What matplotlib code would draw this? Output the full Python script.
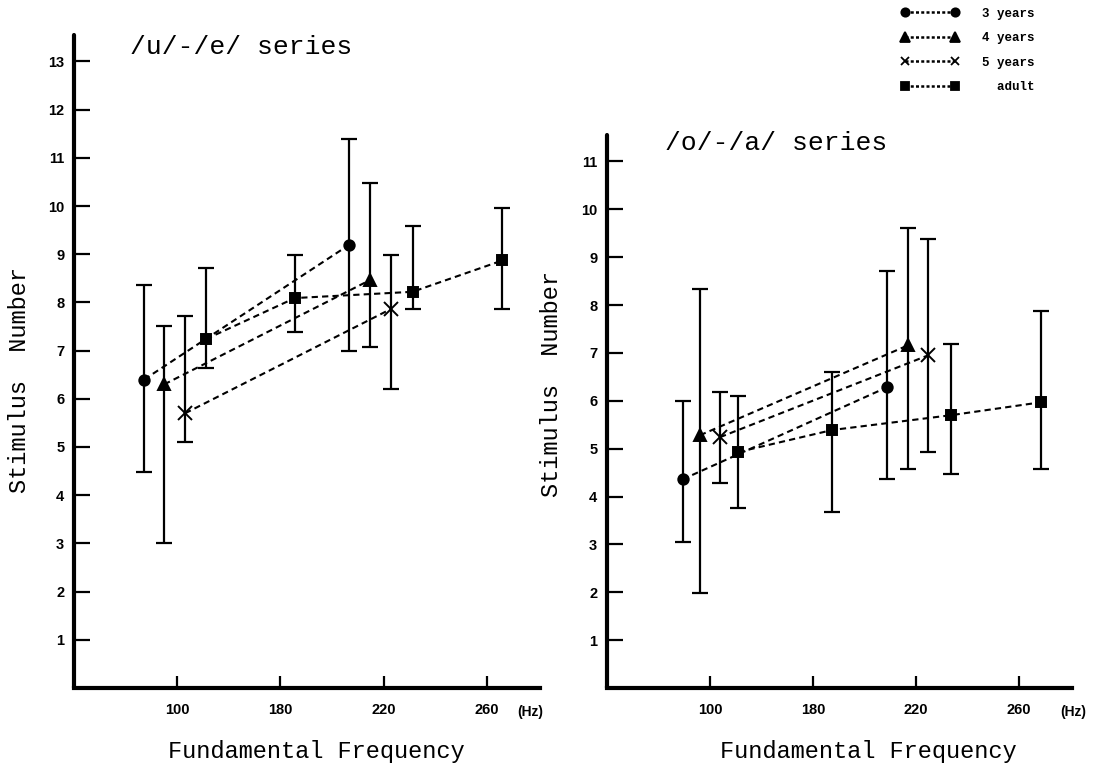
import matplotlib
matplotlib.use('Agg')
import matplotlib.pyplot as plt
from matplotlib.lines import Line2D
import numpy as np

# ── Data ───────────────────────────────────────────────────────────────────
# x positions are in an axis where the ticks sit at 140/180/220/260 but the
# first one is printed "100" as in the original figure
tick_pos    = [140, 180, 220, 260]
tick_labels = ['100', '180', '220', '260']

groups  = ['3 years', '4 years', '5 years', 'adult']
markers = ['o', '^', 'x', 's']

# /u/-/e/ series
ue_x  = [[127.2, 206.5], [135.0, 214.6], [143.1, 222.7], [151.2, 185.6, 231.2, 266.0]]
ue_y  = [[6.40, 9.19],   [6.30, 8.46],   [5.70, 7.86],   [7.24, 8.09, 8.22, 8.87]]
ue_lo = [[4.48, 6.99],   [3.00, 7.07],   [5.10, 6.20],   [6.64, 7.39, 7.87, 7.86]]
ue_hi = [[8.36, 11.39],  [7.51, 10.48],  [7.72, 8.98],   [8.71, 8.98, 9.58, 9.96]]

# /o/-/a/ series
oa_x  = [[129.4, 208.6], [136.1, 216.9], [143.9, 224.7], [151.0, 187.5, 233.7, 268.6]]
oa_y  = [[4.36, 6.28],   [5.28, 7.16],   [5.24, 6.95],   [4.93, 5.39, 5.70, 5.97]]
oa_lo = [[3.05, 4.36],   [1.98, 4.57],   [4.28, 4.93],   [3.76, 3.67, 4.47, 4.57]]
oa_hi = [[5.99, 8.71],   [8.33, 9.62],   [6.18, 9.37],   [6.10, 6.60, 7.18, 7.87]]

MONO = 'Liberation Mono'
TICKFONT = 'Liberation Sans'

fig = plt.figure(figsize=(11.09, 7.71), dpi=100, facecolor='white')
ax_ue = fig.add_axes([0.0667, 0.1077, 0.420, 0.847])
ax_oa = fig.add_axes([0.5473, 0.1077, 0.4193, 0.717])

marker_size = {'o': 7.5, '^': 8, 'x': 10, 's': 6.5}


def draw_panel(ax, xs, ys, los, his, ymax, yticks, title, title_xy, ylab_xy, xlab_xy, hz_xy):
    for xv, yv, lo, hi, m in zip(xs, ys, los, his, markers):
        xv, yv, lo, hi = map(np.asarray, (xv, yv, lo, hi))
        ax.errorbar(xv, yv, yerr=[yv - lo, hi - yv], fmt='none', ecolor='black',
                    elinewidth=1.6, capsize=5.5, capthick=1.6, zorder=2)
        ax.plot(xv, yv, color='black', linestyle=(0, (3, 2)), linewidth=1.5,
                marker=m, markersize=marker_size[m], markeredgewidth=1.4,
                markerfacecolor='black', markeredgecolor='black', zorder=3)

    ax.set_xlim(100, 280.5)
    ax.set_ylim(0, ymax)
    ax.set_xticks(tick_pos)
    ax.set_xticklabels(tick_labels)
    ax.set_yticks(yticks)
    ax.set_yticklabels([str(t) for t in yticks])

    for lab in ax.get_xticklabels() + ax.get_yticklabels():
        lab.set_fontfamily(TICKFONT)
        lab.set_fontweight('bold')
        lab.set_fontsize(10.5)

    ax.spines[['top', 'right']].set_visible(False)
    ax.spines['left'].set_linewidth(3)
    ax.spines['bottom'].set_linewidth(3)
    ax.spines['left'].set_capstyle('round')
    ax.tick_params(axis='y', direction='in', length=11.5, width=1.6, pad=7)
    ax.tick_params(axis='x', direction='in', length=8.5, width=1.6, pad=11)

    ax.text(hz_xy[0], hz_xy[1], '(Hz)', transform=ax.transAxes, ha='center', va='center',
            fontsize=10, fontweight='bold', fontfamily=TICKFONT)

    ax.text(title_xy[0], title_xy[1], title, transform=ax.transAxes,
            fontsize=19, fontfamily=MONO, ha='left', va='center')

    ax.set_ylabel('Stimulus  Number', fontsize=17, fontfamily=MONO)
    ax.yaxis.set_label_coords(*ylab_xy)
    ax.set_xlabel('Fundamental Frequency', fontsize=17, fontfamily=MONO)
    ax.xaxis.set_label_coords(*xlab_xy)


draw_panel(ax_ue, ue_x, ue_y, ue_lo, ue_hi, 13.55, list(range(1, 14)),
           '/u/-/e/ series', (0.12, 0.982), (-0.092, 0.472), (0.521, -0.08),
           (0.979, -0.0368))
draw_panel(ax_oa, oa_x, oa_y, oa_lo, oa_hi, 11.55, list(range(1, 12)),
           '/o/-/a/ series', (0.125, 0.985), (-0.095, 0.55), (0.563, -0.094),
           (1.002, -0.0434))

# ── Legend (marker ---- marker  label) ─────────────────────────────────────
leg_sizes = {'o': 6, '^': 6.5, 'x': 6, 's': 6}
handles = [Line2D([0], [0], color='black', linestyle=(0, (1.2, 0.9)), linewidth=1.8,
                  marker=m, markersize=leg_sizes[m], markeredgewidth=1.3,
                  markerfacecolor='black', markeredgecolor='black')
           for m in markers]
labels = ['3 years', '4 years', '5 years', '  adult']
leg = fig.legend(handles, labels, loc='upper left', bbox_to_anchor=(0.813, 0.99),
                 numpoints=2, frameon=False, borderpad=0, borderaxespad=0,
                 handlelength=4.6, handletextpad=1.8, labelspacing=1.0,
                 prop={'family': MONO, 'weight': 'bold', 'size': 9})

fig.savefig('out.png', dpi=100, facecolor='white')
